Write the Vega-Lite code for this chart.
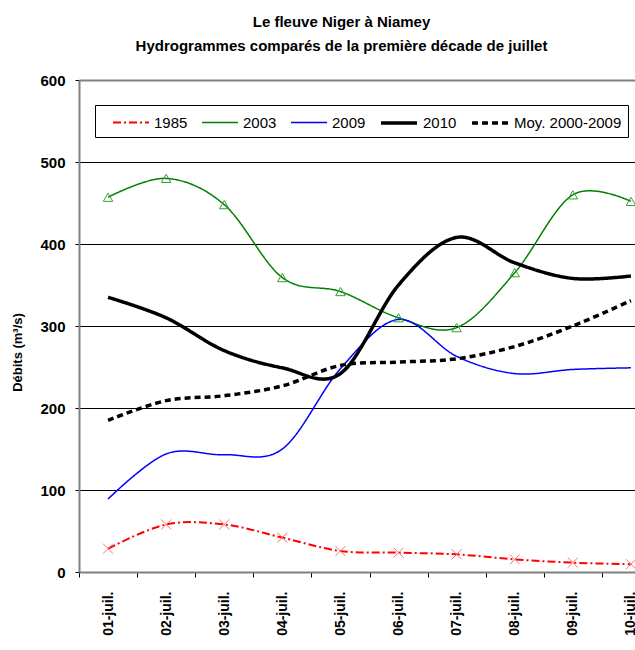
{
  "$schema": "https://vega.github.io/schema/vega-lite/v6.json",
  "autosize": {"type": "none"},
  "padding": {"left": 79, "top": 80, "right": 0, "bottom": 78},
  "width": 581,
  "height": 492,
  "background": "white",
  "title": {
    "text": ["Le fleuve Niger à Niamey", "Hydrogrammes comparés de la première décade de juillet"],
    "font": "Liberation Sans Narrow, Liberation Sans, Arial",
    "fontSize": 15,
    "fontWeight": "bold",
    "lineHeight": 24,
    "anchor": "middle",
    "dx": -28,
    "offset": 19,
    "color": "black"
  },
  "data": {
    "values": [
      {"j": "01-juil.", "s": "1985", "v": 28.5},
      {"j": "02-juil.", "s": "1985", "v": 58},
      {"j": "03-juil.", "s": "1985", "v": 58},
      {"j": "04-juil.", "s": "1985", "v": 42},
      {"j": "05-juil.", "s": "1985", "v": 25.6},
      {"j": "06-juil.", "s": "1985", "v": 23.6},
      {"j": "07-juil.", "s": "1985", "v": 21.5},
      {"j": "08-juil.", "s": "1985", "v": 15.4},
      {"j": "09-juil.", "s": "1985", "v": 11.4},
      {"j": "10-juil.", "s": "1985", "v": 9.5},
      {"j": "01-juil.", "s": "2003", "v": 457},
      {"j": "02-juil.", "s": "2003", "v": 480},
      {"j": "03-juil.", "s": "2003", "v": 448},
      {"j": "04-juil.", "s": "2003", "v": 359},
      {"j": "05-juil.", "s": "2003", "v": 342},
      {"j": "06-juil.", "s": "2003", "v": 310},
      {"j": "07-juil.", "s": "2003", "v": 298},
      {"j": "08-juil.", "s": "2003", "v": 365},
      {"j": "09-juil.", "s": "2003", "v": 460},
      {"j": "10-juil.", "s": "2003", "v": 452},
      {"j": "01-juil.", "s": "2009", "v": 89},
      {"j": "02-juil.", "s": "2009", "v": 144},
      {"j": "03-juil.", "s": "2009", "v": 143},
      {"j": "04-juil.", "s": "2009", "v": 150},
      {"j": "05-juil.", "s": "2009", "v": 248},
      {"j": "06-juil.", "s": "2009", "v": 308},
      {"j": "07-juil.", "s": "2009", "v": 263},
      {"j": "08-juil.", "s": "2009", "v": 242},
      {"j": "09-juil.", "s": "2009", "v": 247},
      {"j": "10-juil.", "s": "2009", "v": 249},
      {"j": "01-juil.", "s": "2010", "v": 335},
      {"j": "02-juil.", "s": "2010", "v": 310},
      {"j": "03-juil.", "s": "2010", "v": 270},
      {"j": "04-juil.", "s": "2010", "v": 249},
      {"j": "05-juil.", "s": "2010", "v": 242},
      {"j": "06-juil.", "s": "2010", "v": 350},
      {"j": "07-juil.", "s": "2010", "v": 408},
      {"j": "08-juil.", "s": "2010", "v": 377},
      {"j": "09-juil.", "s": "2010", "v": 358},
      {"j": "10-juil.", "s": "2010", "v": 361},
      {"j": "01-juil.", "s": "Moy. 2000-2009", "v": 185},
      {"j": "02-juil.", "s": "Moy. 2000-2009", "v": 209},
      {"j": "03-juil.", "s": "Moy. 2000-2009", "v": 215},
      {"j": "04-juil.", "s": "Moy. 2000-2009", "v": 227},
      {"j": "05-juil.", "s": "Moy. 2000-2009", "v": 252},
      {"j": "06-juil.", "s": "Moy. 2000-2009", "v": 256},
      {"j": "07-juil.", "s": "Moy. 2000-2009", "v": 260},
      {"j": "08-juil.", "s": "Moy. 2000-2009", "v": 275},
      {"j": "09-juil.", "s": "Moy. 2000-2009", "v": 300},
      {"j": "10-juil.", "s": "Moy. 2000-2009", "v": 331}
    ]
  },
  "encoding": {
    "x": {
      "field": "j",
      "type": "ordinal",
      "bandPosition": 0.5,
      "scale": {"type": "band", "paddingInner": 0, "paddingOuter": 0},
      "axis": {
        "title": null,
        "labelAngle": 270,
        "labelAlign": "right",
        "labelBaseline": "middle",
        "labelFontSize": 14,
        "labelFontWeight": "bold",
        "labelPadding": 14,
        "tickBand": "extent",
        "tickSize": 5,
        "tickColor": "black",
        "domainColor": "#808080",
        "domainWidth": 2,
        "grid": false
      }
    },
    "y": {
      "field": "v",
      "type": "quantitative",
      "scale": {"domain": [0, 600], "nice": false},
      "axis": {
        "values": [0, 100, 200, 300, 400, 500, 600],
        "title": "Débits (m³/s)",
        "titleFontSize": 13,
        "titleFontWeight": "bold",
        "titleX": -55,
        "titleY": 272,
        "titleAngle": 270,
        "titleAlign": "center",
        "titleBaseline": "bottom",
        "labelFontSize": 15,
        "labelFontWeight": "bold",
        "labelPadding": 10,
        "tickSize": 4,
        "tickColor": "black",
        "domainColor": "#808080",
        "domainWidth": 2,
        "grid": true,
        "gridColor": {"condition": {"test": "datum.value == 0 || datum.value == 600", "value": "#808080"}, "value": "black"},
        "gridWidth": {"condition": {"test": "datum.value == 600", "value": 2}, "value": 1},
        "gridOpacity": 1
      }
    }
  },
  "layer": [
    {
      "mark": {"type": "line", "interpolate": "cardinal", "tension": 0},
      "encoding": {
        "color": {
          "field": "s", "type": "nominal",
          "scale": {"domain": ["1985", "2003", "2009", "2010", "Moy. 2000-2009"], "range": ["#ff0000", "#008000", "#0000ff", "#000000", "#000000"]},
          "legend": {"title": null}
        },
        "strokeDash": {
          "field": "s", "type": "nominal",
          "scale": {"domain": ["1985", "2003", "2009", "2010", "Moy. 2000-2009"], "range": [[8, 3, 2, 3], [1, 0], [1, 0], [1, 0], [6, 4]]},
          "legend": {"title": null}
        },
        "strokeWidth": {
          "field": "s", "type": "ordinal",
          "scale": {"type": "ordinal", "domain": ["1985", "2003", "2009", "2010", "Moy. 2000-2009"], "range": [2, 1.5, 1.5, 3.5, 3.5]},
          "legend": {"title": null}
        }
      }
    },
    {
      "transform": [{"filter": "datum.s == '2003'"}],
      "mark": {"type": "point", "shape": "triangle-up", "filled": false, "stroke": "#33a033", "strokeWidth": 1, "size": 90, "opacity": 1}
    },
    {
      "transform": [{"filter": "datum.s == '1985'"}],
      "mark": {"type": "point", "shape": "M-1,-1L1,1M-1,1L1,-1", "filled": false, "stroke": "#ff7070", "strokeWidth": 1, "size": 100, "opacity": 1}
    }
  ],
  "config": {
    "font": "Liberation Sans Narrow, Liberation Sans, Arial",
    "view": {"stroke": null},
    "axis": {"labelColor": "black", "titleColor": "black", "labelFont": "Liberation Sans Narrow, Liberation Sans, Arial", "titleFont": "Liberation Sans, Arial"},
    "legend": {
      "orient": "none",
      "legendX": 16,
      "legendY": 25,
      "direction": "horizontal",
      "strokeColor": "black",
      "fillColor": "white",
      "padding": 6,
      "symbolOffset": 19,
      "symbolType": "M-1.8,0L1.8,0",
      "symbolSize": 400,
      "labelFontSize": 15,
      "labelColor": "black",
      "labelFont": "Liberation Sans Narrow, Liberation Sans, Arial",
      "labelOffset": 12,
      "columnPadding": 2,
      "cornerRadius": 0
    }
  }
}
